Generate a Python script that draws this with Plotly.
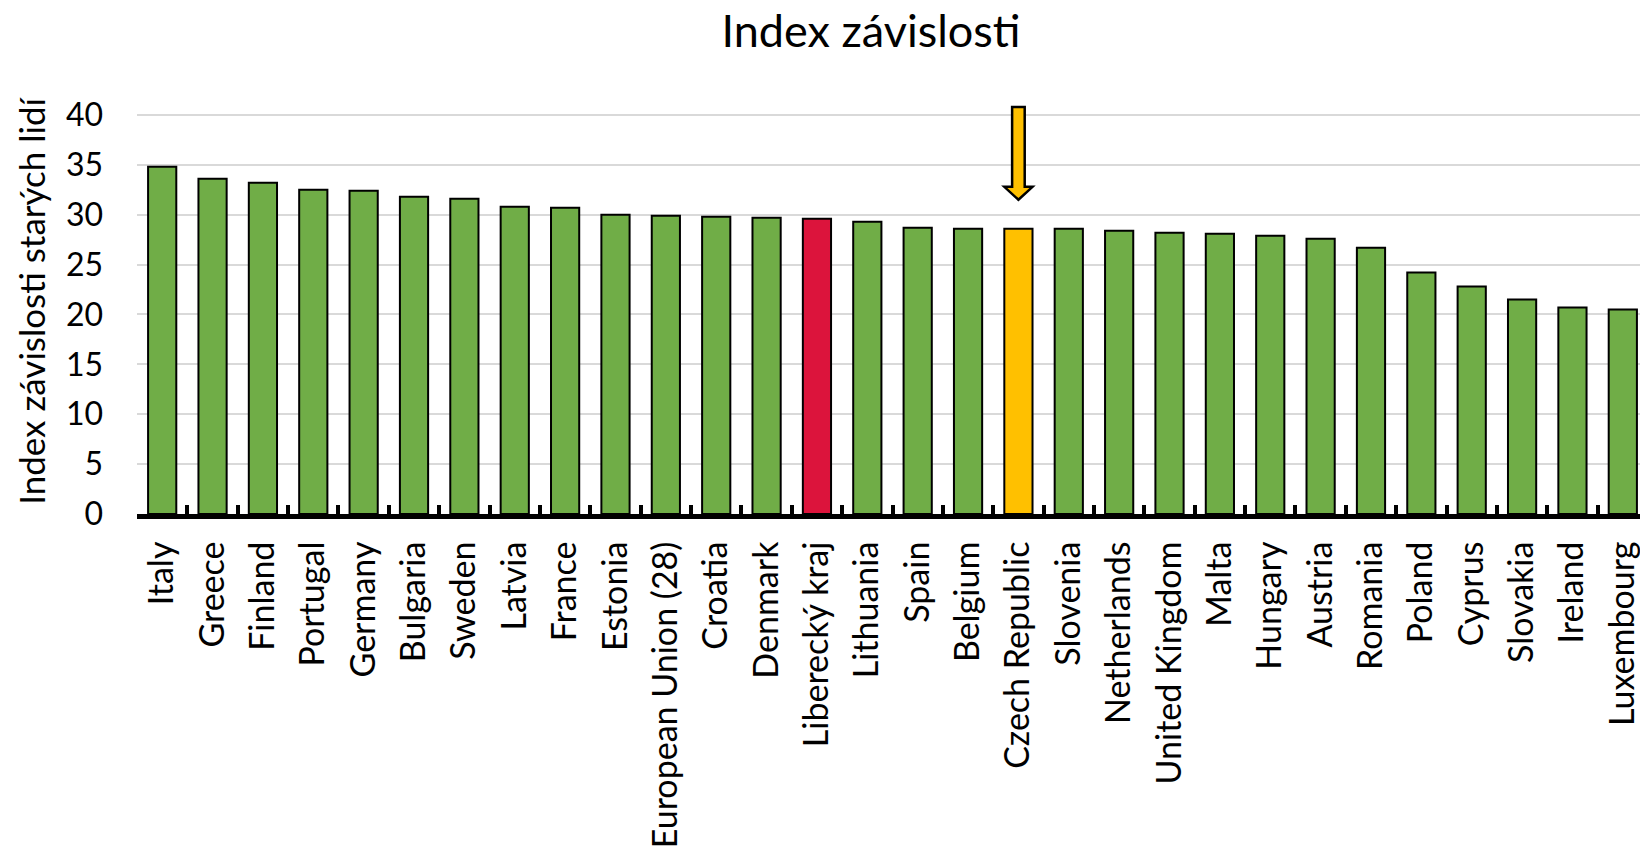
import plotly.graph_objects as go

categories = ["Italy", "Greece", "Finland", "Portugal", "Germany", "Bulgaria", "Sweden",
              "Latvia", "France", "Estonia", "European Union (28)", "Croatia", "Denmark",
              "Liberecký kraj", "Lithuania", "Spain", "Belgium", "Czech Republic", "Slovenia",
              "Netherlands", "United Kingdom", "Malta", "Hungary", "Austria", "Romania",
              "Poland", "Cyprus", "Slovakia", "Ireland", "Luxembourg"]
values = [34.8, 33.6, 33.2, 32.5, 32.4, 31.8, 31.6, 30.8, 30.7, 30.0, 29.9, 29.8, 29.7,
          29.6, 29.3, 28.7, 28.6, 28.6, 28.6, 28.4, 28.2, 28.1, 27.9, 27.6, 26.7,
          24.2, 22.8, 21.5, 20.7, 20.5]
y_tickvals = [0, 5, 10, 15, 20, 25, 30, 35, 40]

title_text = "Index závislosti"
y_title = "Index závislosti starých lidí"
highlight_region = "Liberecký kraj"
highlight_country = "Czech Republic"

GREEN = "#70AD47"
RED = "#DC143C"
YELLOW = "#FFC000"
FONT = "Lato"

# page body has an 8px margin, so the figure is drawn 8px in from the top-left
W, H = 1640, 843
ML, MT = 129, 97
PLOT_H = 409

colors = [RED if c == highlight_region else YELLOW if c == highlight_country else GREEN
          for c in categories]

fig = go.Figure()
fig.add_trace(go.Bar(
    x=categories, y=values,
    marker=dict(color=colors, line=dict(color="black", width=2)),
    hoverinfo="x+y",
))

# block arrow pointing at the Czech Republic bar (offsets relative to its value)
ci = categories.index(highlight_country)
cv = values[ci]
shaft_hw, head_hw = 0.125, 0.28
tip, head_base, top = cv + 2.9, cv + 4.2, cv + 12.2
path = (f"M {ci - shaft_hw},{top} L {ci + shaft_hw},{top} L {ci + shaft_hw},{head_base} "
        f"L {ci + head_hw},{head_base} L {ci},{tip} L {ci - head_hw},{head_base} "
        f"L {ci - shaft_hw},{head_base} Z")
fig.add_shape(type="path", path=path, xref="x", yref="y",
              fillcolor=YELLOW, line=dict(color="black", width=2.5), layer="above")

fig.add_annotation(text=y_title, textangle=-90, xref="paper", yref="paper",
                   x=-0.0702, y=0.521, xanchor="center", yanchor="middle",
                   showarrow=False, font=dict(family=FONT, size=35, color="black"))

fig.update_layout(
    width=W, height=H,
    margin=dict(l=ML, r=0, t=MT, b=H - MT - PLOT_H, pad=0),
    paper_bgcolor="white", plot_bgcolor="white",
    bargap=0.44,
    showlegend=False,
    title=dict(text=title_text, x=(871 - 8) / W, xref="container", xanchor="center",
               y=1 - (31 - 8) / H, yref="container", yanchor="middle",
               font=dict(family=FONT, size=45, color="black")),
    font=dict(family=FONT, color="black"),
)
fig.update_xaxes(
    type="category", tickson="boundaries", ticks="inside", ticklen=9, tickwidth=4,
    tickcolor="black", showline=True, linecolor="black", linewidth=5,
    tickangle=-90, showgrid=False, automargin=False,
    tickfont=dict(family=FONT, size=34, color="black"), ticklabelstandoff=9,
)
fig.update_yaxes(
    range=[0, 41], tickvals=y_tickvals, showgrid=True, gridcolor="#D9D9D9", gridwidth=1.5,
    zeroline=False, showline=False, ticks="", automargin=False,
    tickfont=dict(family=FONT, size=32, color="black"), ticklabelstandoff=33,
)

fig.write_html("out.html")
